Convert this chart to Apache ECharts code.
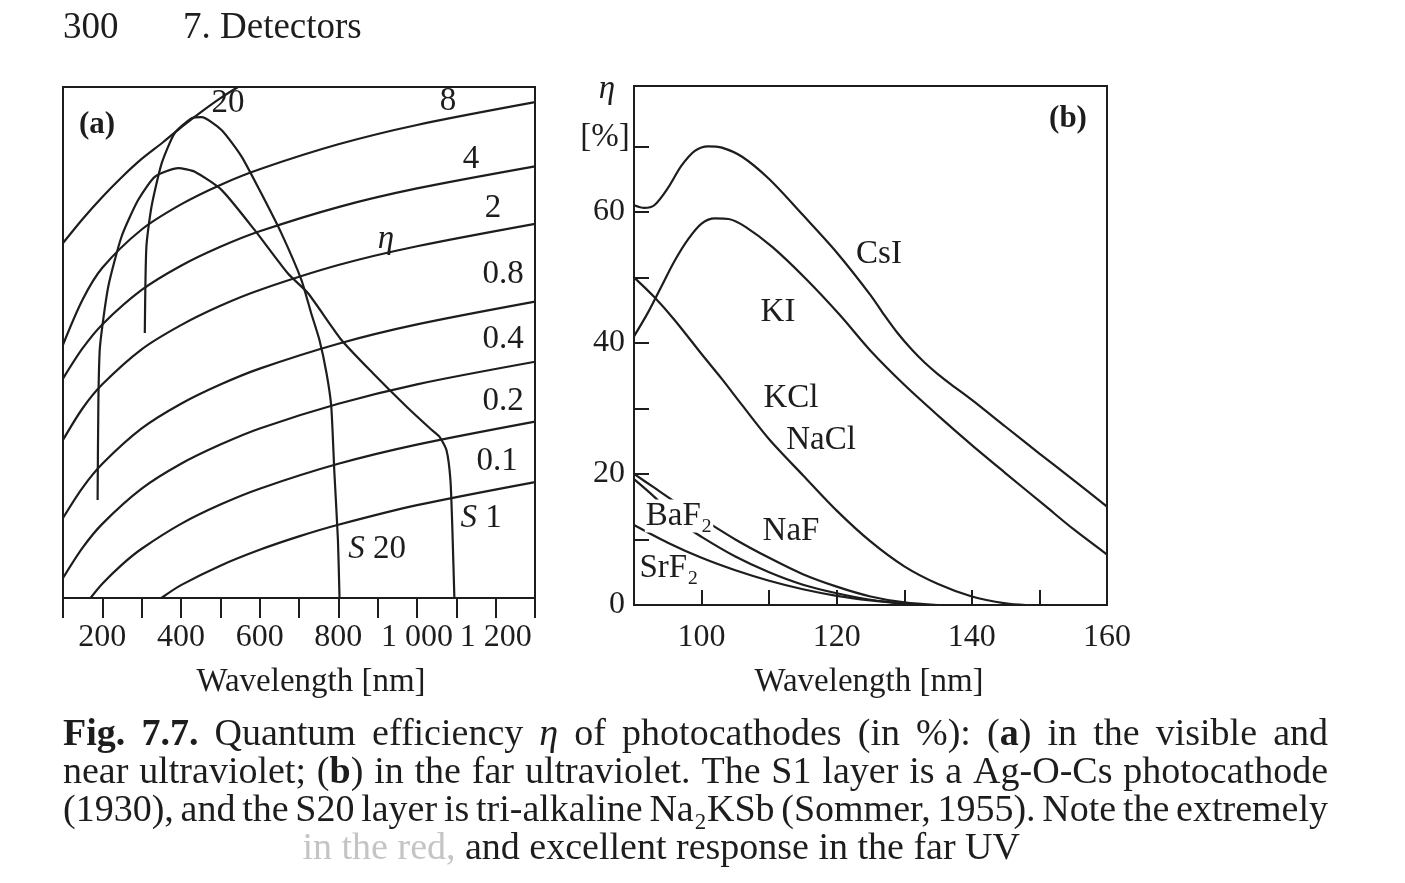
<!DOCTYPE html>
<html><head><meta charset="utf-8">
<script src="https://cdn.jsdelivr.net/npm/echarts@6/dist/echarts.min.js"></script>
<style>html,body{margin:0;padding:0;background:#fff;}#c{width:1405px;height:883px;}</style>
</head><body><div id="c"></div>
<script>
// ===== Panel (a): wavelength [nm] vs. responsivity [mA/W] (log scale, unlabelled) =====
// lines of constant quantum efficiency eta (in %)
const eta20 = [[100,16.5],[150,21.8],[200,28.1],[250,35.4],[300,43.6],[355,53],[405,63.8],[455,75.9],[505,89.2],[545,100]];
const eta8  = [[100,5.1],[150,8.6],[200,12.4],[300,19.3],[400,25.8],[500,32.3],[600,38.7],[800,51.6],[1000,64.5],[1300,83.9]];
const eta4  = [[100,3.45],[150,4.9],[200,6.45],[300,9.6],[400,12.7],[500,15.8],[600,18.9],[800,25],[1000,31],[1300,40]];
const eta2  = [[100,1.7],[150,2.45],[200,3.23],[300,4.84],[400,6.4],[500,8.0],[600,9.6],[800,12.8],[1000,15.9],[1300,20.6]];
const eta08 = [[100,0.69],[150,0.98],[200,1.29],[300,1.94],[400,2.58],[500,3.22],[600,3.87],[800,5.16],[1000,6.45],[1300,8.39]];
const eta04 = [[100,0.345],[150,0.49],[200,0.645],[300,0.968],[400,1.29],[500,1.61],[600,1.94],[800,2.58],[1000,3.23],[1300,4.19]];
const eta02 = [[170,0.274],[200,0.323],[250,0.403],[300,0.484],[400,0.645],[500,0.806],[600,0.968],[800,1.29],[1000,1.61],[1300,2.10]];
const eta01 = [[350,0.274],[400,0.318],[500,0.398],[600,0.478],[700,0.558],[800,0.638],[1000,0.80],[1300,1.045]];
// photocathode responses
const s20 = [[308,5.84],[312,15.8],[325,25.1],[351,41.5],[384,58.7],[427,69.7],[452,70.6],[503,60.9],[554,44.8],[604,29.3],[655,18.5],[706,10.8],[731,7.34],[752,5.39],[770,3.67],[782,2.5],[790,1.16],[799,0.535],[803,0.274]];
const s1  = [[188,0.85],[190,2.7],[194,4.99],[215,9.97],[249,17.8],[291,27.1],[334,35.5],[393,39.2],[435,37.6],[503,30.5],[587,19.2],[672,11.6],[723,9.24],[808,5.39],[888,3.67],[973,2.5],[1032,1.95],[1057,1.765],[1075,1.51],[1085,1.07],[1090,0.60],[1095,0.274]];
const xTicksA = [200,400,600,800,1000,1200];
const xTickLabelsA = ['200','400','600','800','1 000','1 200'];

// ===== Panel (b): wavelength [nm] vs. quantum efficiency eta [%] =====
const csI  = [[90,61],[91.5,60.6],[93,61],[95,63.6],[97,67],[99,69.3],[101,70],[103,69.8],[106,68.4],[110,65],[115,59.5],[120,53.8],[125,47.3],[127,44.3],[129,41.5],[131,39.1],[133,37],[135,35.2],[137,33.6],[140,31.3],[145,27.2],[150,23.1],[155,19.1],[160,15]];
const kI   = [[90,41],[92,44.5],[94,48.5],[96,52.5],[98,55.8],[100,58.2],[102,59],[104,58.9],[106.5,57.7],[110.5,54.6],[115.5,49.7],[120.5,44.2],[125,38.8],[130,33.6],[135,28.9],[140,24.4],[145,20.1],[151,15],[155,11.6],[160,7.7]];
const kCl  = [[90,50],[93,47],[96,43.5],[100,38.3],[103,34.5],[106,30.5],[110,25.3],[115,19.8],[120,14.4],[125,9.7],[130,5.9],[135,3.2],[140,1.3],[145,0.25],[148,0]];
const naF  = [[90,20],[93,17.9],[96,15.8],[100,13.2],[105,10],[110,7.2],[115,4.7],[120,2.8],[125,1.3],[130,0.4],[135,0]];
const baF2 = [[90,19.2],[93,16.5],[97,12.5],[100,10.4],[105,7.4],[110,5],[115,3.1],[120,1.8],[125,0.8],[130,0.2],[133,0]];
const srF2 = [[90,12.2],[95,9.5],[100,7.2],[105,5.3],[110,3.7],[115,2.4],[120,1.4],[125,0.7],[130,0.2],[133,0]];
const xTicksB = [100,120,140,160];
const xTickLabelsB = ['100','120','140','160'];
const yTicksB = [0,20,40,60];
const yTickLabelsB = ['0','20','40','60'];

// ===== texts =====
const header = ['300','7. Detectors'];
const captionLines = [
  '{b|Fig.} {b|7.7.} Quantum efficiency {i|η} of photocathodes (in %): ({b|a}) in the visible and',
  'near ultraviolet; ({b|b}) in the far ultraviolet. The S1 layer is a Ag-O-Cs photocathode',
  '(1930), and the S20 layer is tri-alkaline Na₂KSb (Sommer, 1955). Note the extremely',
  'in the red, and excellent response in the far UV'
];

// ---------------------------------------------------------------------------
const INK = '#1d1d1d';
const SERIF = '"Liberation Serif", "Times New Roman", serif';
const FS = 33;
const chart = echarts.init(document.getElementById('c'), null, {renderer:'canvas'});

function lineSeries(name, data, gi, smooth){
  return {name, type:'line', xAxisIndex:gi, yAxisIndex:gi, data, showSymbol:false, symbol:'none',
    smooth: smooth, lineStyle:{color:INK, width:2.2}, silent:true, z:3, animation:false};
}
const fmt = (ticks, labels) => v => { const i = ticks.indexOf(v); return i >= 0 ? labels[i] : ''; };

// text helpers
const mctx = document.createElement('canvas').getContext('2d');
function parseSegs(tok){
  const segs=[]; const re=/\{(\w)\|([^}]*)\}|([^{]+)/g; let m;
  while((m=re.exec(tok))){ if(m[1]) segs.push({s:m[1],t:m[2]}); else segs.push({s:'n',t:m[3]}); }
  return segs;
}
function fontFor(s,size){ return (s==='i'?'italic ':'')+(s==='b'?'bold ':'')+size+'px "Liberation Serif"'; }
function tokWidth(tok,size){ return parseSegs(tok).reduce((w,g)=>{mctx.font=fontFor(g.s,size); return w+mctx.measureText(g.t).width;},0); }
function richFor(size, fill){ return {b:{fontWeight:'bold',fontSize:size,fontFamily:SERIF,fill:fill}, i:{fontStyle:'italic',fontSize:size,fontFamily:SERIF,fill:fill}}; }
function txt(text, x, y, opts){
  opts = opts || {};
  const size = opts.size || FS;
  const fill = opts.fill || INK;
  const st = {text, fontSize:size, fontFamily:SERIF, fontWeight:opts.bold?'bold':'normal',
    fontStyle:opts.italic?'italic':'normal', fill:fill, align:opts.align||'center', verticalAlign:'middle',
    rich: richFor(size, fill)};
  if (opts.bg){ st.backgroundColor = opts.bg; st.padding = [0,1,0,1]; }
  return {type:'text', x, y, z:100, silent:true, style:st};
}

const g = [];
// header
g.push(txt(header[0], 63, 28, {size:37, align:'left'}));
g.push(txt(header[1], 183, 28, {size:37, align:'left'}));
// panel (a) annotations
g.push(txt('(a)', 97, 125, {bold:true, size:31}));
[['20',228,103],['8',448,101],['4',471,159],['2',493,208],['0.8',503,274],['0.4',503,339],['0.2',503,401],['0.1',497,461]]
  .forEach(a => g.push(txt(a[0], a[1], a[2])));
g.push(txt('η', 386, 239, {italic:true}));
g.push(txt('{i|S} 1', 481, 518));
g.push(txt('{i|S} 20', 377, 549));
g.push(txt('Wavelength [nm]', 311, 682));
// panel (b) annotations
g.push(txt('(b)', 1068, 119, {bold:true, size:31}));
[['CsI',879,254],['KI',778,312],['KCl',791,398],['NaCl',821,440],['NaF',791,531],['SrF₂',669,568]]
  .forEach(a => g.push(txt(a[0], a[1], a[2])));
g.push(txt('BaF₂', 679, 516, {bg:'#ffffff'}));
g.push(txt('η', 607, 89, {italic:true}));
g.push(txt('[%]', 605, 137));
g.push(txt('Wavelength [nm]', 869, 682));

// caption (justified like the printed page)
const CAP = 38, CAP_L = 63, CAP_R = 1328, capY = [735, 773, 811, 849];
captionLines.forEach((line, li) => {
  const words = line.split(' ');
  const widths = words.map(w => tokWidth(w, CAP));
  const total = widths.reduce((a,b)=>a+b,0);
  const last = li === captionLines.length - 1;
  if (last){
    const sp = tokWidth(' ', CAP);
    let x = 1020 - (total + sp*(words.length-1));
    words.forEach((w,i)=>{
      const faint = i < 3;
      g.push(txt(w, x, capY[li], {size:CAP, align:'left', fill: faint ? '#c4c4c4' : INK}));
      x += widths[i] + sp;
    });
  } else {
    const gap = (CAP_R - CAP_L - total) / (words.length - 1);
    let x = CAP_L;
    words.forEach((w,i)=>{ g.push(txt(w, x, capY[li], {size:CAP, align:'left'})); x += widths[i] + gap; });
  }
});

const option = {
  backgroundColor:'#ffffff',
  animation:false,
  grid:[
    {left:63, top:87, width:472, height:511, show:true, borderColor:INK, borderWidth:2, backgroundColor:'transparent'},
    {left:634, top:86, width:473, height:519, show:true, borderColor:INK, borderWidth:2, backgroundColor:'transparent'}
  ],
  xAxis:[
    {type:'value', gridIndex:0, min:100, max:1300, interval:100,
     axisLine:{show:false}, splitLine:{show:false},
     axisTick:{show:true, inside:false, length:20, lineStyle:{color:INK, width:2}},
     axisLabel:{show:true, margin:24, fontFamily:SERIF, fontSize:32, color:INK, showMinLabel:true, showMaxLabel:true,
       formatter: fmt(xTicksA, xTickLabelsA)}},
    {type:'value', gridIndex:1, min:90, max:160, interval:10,
     axisLine:{show:false}, splitLine:{show:false},
     axisTick:{show:true, inside:true, length:15, lineStyle:{color:INK, width:2}},
     axisLabel:{show:true, margin:17, fontFamily:SERIF, fontSize:32, color:INK, showMinLabel:true, showMaxLabel:true,
       formatter: fmt(xTicksB, xTickLabelsB)}}
  ],
  yAxis:[
    {type:'log', gridIndex:0, min:0.274, max:100, logBase:10,
     axisLine:{show:false}, axisTick:{show:false}, axisLabel:{show:false}, splitLine:{show:false}},
    {type:'value', gridIndex:1, min:0, max:79.2, interval:10,
     axisLine:{show:false}, splitLine:{show:false},
     axisTick:{show:true, inside:true, length:15, lineStyle:{color:INK, width:2}},
     axisLabel:{show:true, margin:9, fontFamily:SERIF, fontSize:32, color:INK, showMinLabel:true, showMaxLabel:false,
       formatter: fmt(yTicksB, yTickLabelsB)}}
  ],
  series:[
    lineSeries('η 20 %', eta20, 0, 0.3),
    lineSeries('η 8 %', eta8, 0, 0.3),
    lineSeries('η 4 %', eta4, 0, 0.3),
    lineSeries('η 2 %', eta2, 0, 0.3),
    lineSeries('η 0.8 %', eta08, 0, 0.3),
    lineSeries('η 0.4 %', eta04, 0, 0.3),
    lineSeries('η 0.2 %', eta02, 0, 0.3),
    lineSeries('η 0.1 %', eta01, 0, 0.3),
    lineSeries('S 20', s20, 0, 0.2),
    lineSeries('S 1', s1, 0, 0.2),
    lineSeries('CsI', csI, 1, 0.3),
    lineSeries('KI', kI, 1, 0.3),
    lineSeries('KCl / NaCl', kCl, 1, 0.3),
    lineSeries('NaF', naF, 1, 0.3),
    lineSeries('BaF₂', baF2, 1, 0.3),
    lineSeries('SrF₂', srF2, 1, 0.3)
  ],
  graphic:{elements:g}
};
chart.setOption(option);
</script>
</body></html>
